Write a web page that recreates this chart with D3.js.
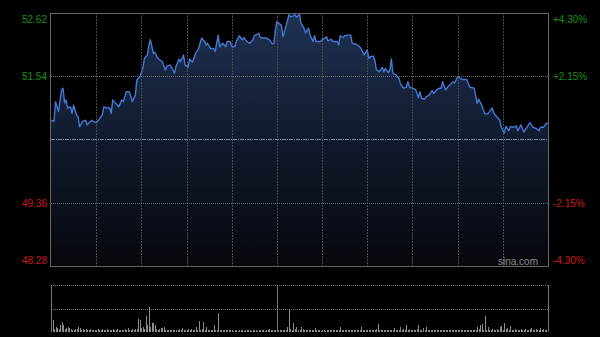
<!DOCTYPE html>
<html>
<head>
<meta charset="utf-8">
<script src="https://cdn.jsdelivr.net/npm/d3@7"></script>
<style>
  body { margin: 0; background: #000; }
  svg { display: block; font-family: Arial, "Liberation Sans", sans-serif; }
</style>
</head>
<body>
<script>
// HK intraday: 09:30-12:00, 13:00-16:00 -> minutes 0..330
const prevClose = 50.45;
const priceTicks = [52.62, 51.54, 50.45, 49.36, 48.28];
const pctTicks = ['+4.30%', '+2.15%', '', '-2.15%', '-4.30%'];
const gridMinutes = [30, 60, 90, 120, 150, 180, 210, 240, 270, 300];

const minutes = [0,2,3,5,7,8,9,10,11,13,14,15,17,18,19,21,23,24,25,27,28,30,31,34,35,37,39,40,41,43,45,47,48,50,52,54,55,56,57,59,
  61,62,64,65,66,68,69,71,74,76,77,79,80,82,83,85,86,88,89,91,92,94,96,98,100,102,103,104,106,108,109,111,112,114,116,117,119,120,122,123,
  125,127,128,130,132,134,135,138,139,141,143,145,147,148,149,150,152,153,154,156,158,159,160,162,163,164,165,166,168,169,171,172,174,175,176,179,180,183,184,186,
  187,190,191,192,194,195,197,199,200,203,205,206,208,210,211,212,214,215,216,218,220,221,222,224,225,226,227,229,231,232,234,236,237,238,240,242,244,245,246,248,
  249,251,253,254,256,258,259,260,262,264,265,267,268,270,273,276,278,281,283,284,286,288,290,293,294,296,298,299,301,302,304,305,307,309,310,312,314,316,318,320,
  322,324,325,327,329,330];

const prices = [50.78,50.76,51.10,50.93,51.30,51.33,51.08,51.13,50.99,51.01,50.90,51.04,50.87,50.84,50.67,50.76,50.78,50.70,50.73,50.78,50.76,50.74,50.76,50.87,51.01,50.99,50.99,50.90,51.13,51.07,51.01,51.13,51.10,51.27,51.27,51.10,51.16,51.21,51.47,51.53,
  51.67,51.84,51.90,52.07,52.16,51.93,51.94,51.84,51.78,51.64,51.71,51.73,51.69,51.59,51.70,51.83,51.78,51.90,51.73,51.69,51.83,51.78,51.93,52.01,52.19,52.13,52.07,52.10,52.01,52.01,51.96,52.24,52.04,52.10,52.04,52.13,52.13,52.05,52.04,52.13,
  52.23,52.16,52.20,52.13,52.10,52.16,52.23,52.27,52.20,52.19,52.19,52.16,52.09,52.10,52.33,52.47,52.43,52.41,52.21,52.39,52.59,52.56,52.56,52.59,52.55,52.57,52.60,52.44,52.36,52.28,52.36,52.24,52.13,52.23,52.13,52.13,52.16,52.21,52.14,52.17,
  52.13,52.13,52.07,52.23,52.20,52.23,52.24,52.24,52.10,52.08,52.04,52.00,51.90,51.99,51.84,51.87,51.88,51.81,51.65,51.61,51.69,51.61,51.67,51.60,51.64,51.83,51.59,51.56,51.50,51.41,51.33,51.35,51.44,51.35,51.33,51.31,51.17,51.27,51.16,51.14,
  51.18,51.21,51.29,51.24,51.30,51.33,51.33,51.44,51.30,51.37,51.39,51.44,51.42,51.53,51.48,51.48,51.35,51.33,51.07,51.14,51.04,50.89,50.89,50.99,50.90,50.84,50.78,50.66,50.56,50.68,50.60,50.67,50.66,50.68,50.60,50.70,50.58,50.66,50.74,50.66,
  50.64,50.60,50.66,50.66,50.73,50.72];

// volume per minute (lots)
const volumes = [
  140,120,30,50,40,30,70,100,70,30,40,50,40,30,20,20,30,30,50,40,20,30,20,30,20,20,30,20,20,20,
  20,30,20,20,30,20,20,30,20,20,20,30,20,20,30,20,20,20,20,30,20,40,20,20,30,20,30,30,130,120,
  40,50,30,160,70,250,50,90,90,70,30,20,30,40,40,50,20,20,20,20,20,20,20,20,20,30,20,40,20,20,
  20,30,20,30,20,20,50,20,110,20,30,100,20,50,20,20,20,20,70,20,20,190,20,20,20,20,20,20,20,20,
  20,10,20,20,10,20,20,20,10,20,20,20,20,10,20,20,20,10,20,20,20,20,10,20,20,30,20,20,20,20,
  20,20,20,20,20,20,20,50,230,30,20,90,30,50,20,20,50,30,20,20,20,20,20,20,20,40,20,20,20,10,
  20,20,10,20,20,20,20,20,20,20,20,20,50,20,20,20,20,20,20,20,20,20,20,20,20,20,50,20,20,20,
  20,20,20,20,20,20,30,80,20,20,20,20,20,20,20,20,20,20,40,20,20,20,50,20,30,20,70,20,30,20,
  20,20,20,30,70,20,20,40,20,50,20,20,20,20,20,20,20,20,20,20,20,20,20,20,20,20,20,20,20,20,
  20,20,20,20,20,20,20,20,20,20,20,20,20,50,30,70,80,20,160,20,50,20,20,30,20,20,30,20,50,60,
  20,90,30,40,20,60,20,20,30,20,20,20,30,20,20,30,20,20,30,40,20,20,30,20,20,40,20,30,20,20,30];

if (minutes.length !== prices.length) throw new Error('len ' + minutes.length + ' vs ' + prices.length);

const w = 600, h = 337;
const padL = 51, padR = 548, plotTop = 13, plotBottom = 266;
const vTop = 285, vBottom = 332;

const xScale = d3.scaleLinear().domain([0, 330]).range([padL, padR]);
const yScale = d3.scaleLinear().domain([48.28, 52.62]).range([plotBottom, plotTop]);
const vScale = d3.scaleLinear().domain([0, 470]).range([vBottom, vTop]);

const svg = d3.select('body').append('svg').attr('width', w).attr('height', h);
svg.append('rect').attr('width', w).attr('height', h).attr('fill', '#000');

const grad = svg.append('defs').append('linearGradient')
  .attr('id', 'fill').attr('gradientUnits', 'userSpaceOnUse')
  .attr('x1', 0).attr('x2', 0).attr('y1', plotTop).attr('y2', plotBottom);
grad.append('stop').attr('offset', 0).attr('stop-color', '#1e3152');
grad.append('stop').attr('offset', 0.5).attr('stop-color', '#111b2e');
grad.append('stop').attr('offset', 1).attr('stop-color', '#05070b');

const pts = minutes.map((m, i) => ({ m: m, p: prices[i] }));

// area + line
svg.append('path').datum(pts)
  .attr('d', d3.area().x(d => xScale(d.m)).y0(plotBottom).y1(d => yScale(d.p)))
  .attr('fill', 'url(#fill)');

// grid
svg.selectAll('.vgrid').data(gridMinutes).enter().append('line')
  .attr('x1', d => Math.round(xScale(d)) + 0.5).attr('x2', d => Math.round(xScale(d)) + 0.5)
  .attr('y1', plotTop).attr('y2', plotBottom)
  .attr('stroke', '#4a4a4a').attr('stroke-dasharray', '2,1');
svg.selectAll('.hgrid').data([51.54, 49.36]).enter().append('line')
  .attr('x1', padL).attr('x2', padR)
  .attr('y1', d => Math.round(yScale(d)) + 0.5).attr('y2', d => Math.round(yScale(d)) + 0.5)
  .attr('stroke', '#6a6a6a').attr('stroke-dasharray', '1,1');
svg.append('line')
  .attr('x1', padL).attr('x2', padR)
  .attr('y1', Math.round(yScale(prevClose)) + 0.5).attr('y2', Math.round(yScale(prevClose)) + 0.5)
  .attr('stroke', '#7c8796').attr('stroke-dasharray', '4,1,1,1');

svg.append('path').datum(pts)
  .attr('d', d3.line().x(d => xScale(d.m)).y(d => yScale(d.p)))
  .attr('fill', 'none').attr('stroke', '#4479d4').attr('stroke-width', 1.4)
  .attr('stroke-linejoin', 'round');

// frame
svg.append('rect').attr('x', padL - 0.5).attr('y', plotTop + 0.5)
  .attr('width', padR - padL + 1).attr('height', plotBottom - plotTop)
  .attr('fill', 'none').attr('stroke', '#666');

// labels
const lab = (d, i) => i < 2 ? '#149414' : (i > 2 ? '#d01818' : 'none');
const labShift = (d, i) => (i === 0 ? 6 : (i === 4 ? -6 : 0));
const yAxisL = d3.axisLeft(yScale).tickValues(priceTicks).tickSize(0).tickPadding(0)
  .tickFormat(d3.format('.2f'));
const gl = svg.append('g').attr('transform', 'translate(' + (padL - 4) + ',0)').call(yAxisL);
gl.select('.domain').remove();
gl.selectAll('.tick text').attr('fill', lab).attr('font-size', 10)
  .attr('font-family', 'Arial, "Liberation Sans", sans-serif')
  .attr('dy', '0.35em').attr('y', labShift);

const yAxisR = d3.axisRight(yScale).tickValues(priceTicks).tickSize(0).tickPadding(0)
  .tickFormat((d, i) => pctTicks[i]);
const gr = svg.append('g').attr('transform', 'translate(' + (padR + 5) + ',0)').call(yAxisR);
gr.select('.domain').remove();
gr.selectAll('.tick text').attr('fill', lab).attr('font-size', 10)
  .attr('font-family', 'Arial, "Liberation Sans", sans-serif')
  .attr('dy', '0.35em').attr('y', labShift);

svg.append('text').text('sina.com').attr('x', 498).attr('y', 265)
  .attr('fill', '#8a8a8a').attr('font-size', 10);

// volume panel
svg.selectAll('.vline').data([vTop, (vTop + vBottom) / 2]).enter().append('line')
  .attr('x1', padL).attr('x2', padR)
  .attr('y1', d => Math.round(d) + 0.5).attr('y2', d => Math.round(d) + 0.5)
  .attr('stroke', '#777').attr('stroke-dasharray', '1,1');
svg.selectAll('.vbar').data(volumes).enter().append('rect')
  .attr('x', (d, i) => Math.round(xScale(i)))
  .attr('y', d => vScale(d))
  .attr('width', 1)
  .attr('height', d => vBottom - vScale(d))
  .attr('fill', '#8c8c8c');
[padL, xScale(150), padR].forEach(x => {
  svg.append('line').attr('x1', Math.round(x) + 0.5).attr('x2', Math.round(x) + 0.5)
    .attr('y1', vTop).attr('y2', vBottom).attr('stroke', '#777');
});
</script>
</body>
</html>
